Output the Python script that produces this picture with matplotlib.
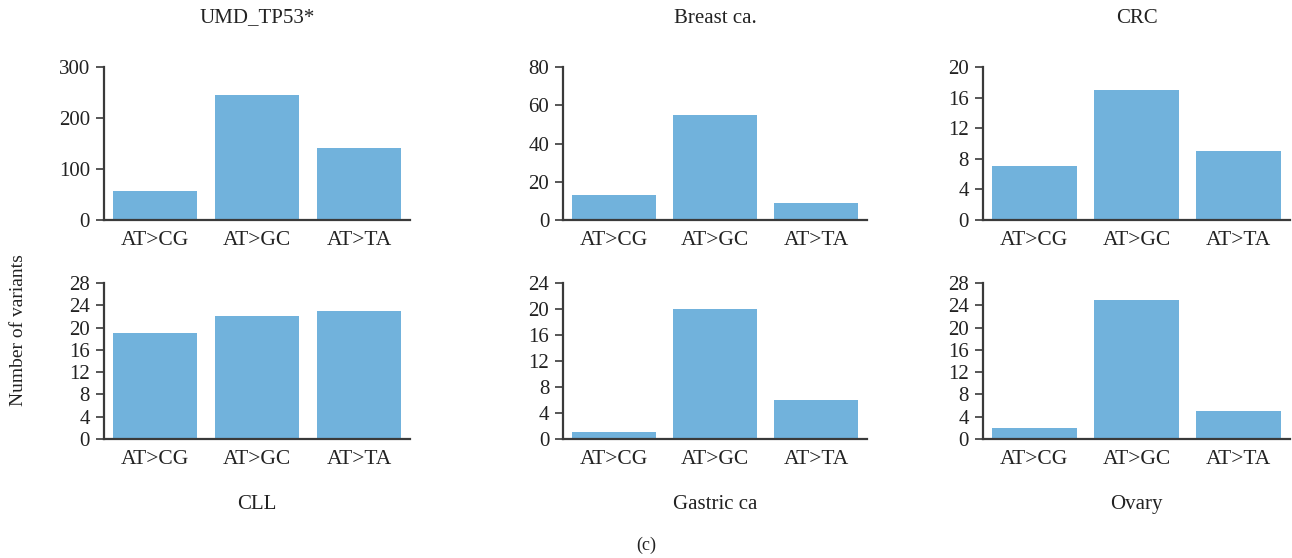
import matplotlib
matplotlib.use("Agg")
import matplotlib.pyplot as plt

# data
categories = ["AT>CG", "AT>GC", "AT>TA"]
panel_titles = ["UMD_TP53*", "Breast ca.", "CRC", "CLL", "Gastric ca", "Ovary"]
umd_tp53 = [56, 245, 141]
breast = [13, 55, 9]
crc = [7, 17, 9]
cll = [19, 22, 23]
gastric = [1, 20, 6]
ovary = [2, 25, 5]
y_ticks = [
    [0, 100, 200, 300],
    [0, 20, 40, 60, 80],
    [0, 4, 8, 12, 16, 20],
    [0, 4, 8, 12, 16, 20, 24, 28],
    [0, 4, 8, 12, 16, 20, 24],
    [0, 4, 8, 12, 16, 20, 24, 28],
]

plt.rcParams['font.family'] = ['Liberation Serif', 'DejaVu Serif']
bar_color = "#71b2dc"
spine_color = "#3a3a3a"

fig = plt.figure(figsize=(12.92, 5.58), dpi=100)

col_left = [0.0805, 0.4358, 0.7608]
col_width = [0.2368, 0.2353, 0.2376]
row_bottom = [0.6057, 0.2133]
row_height = [0.2742, 0.2796]

series = [umd_tp53, breast, crc, cll, gastric, ovary]
for i, vals in enumerate(series):
    r, c = divmod(i, 3)
    ax = fig.add_axes([col_left[c], row_bottom[r], col_width[c], row_height[r]])
    ax.bar(range(len(categories)), vals, width=0.83, color=bar_color)
    ax.set_xlim(-0.5, 2.5)
    ticks = y_ticks[i]
    ax.set_ylim(ticks[0], ticks[-1])
    ax.set_yticks(ticks)
    ax.set_xticks(range(len(categories)))
    ax.set_xticklabels(categories)
    for s in ["top", "right"]:
        ax.spines[s].set_visible(False)
    for s in ["left", "bottom"]:
        ax.spines[s].set_color(spine_color)
        ax.spines[s].set_linewidth(1.6)
    ax.tick_params(axis="x", length=0, pad=8, labelsize=15.5, colors="#222222")
    ax.tick_params(axis="y", length=6, width=1.2, pad=4, labelsize=15,
                   colors=spine_color, labelcolor="#222222")
    if r == 0:
        ax.text(0.5, 1.32, panel_titles[i], transform=ax.transAxes,
                ha="center", va="center", fontsize=15, color="#222222")
    else:
        ax.text(0.5, -0.42, panel_titles[i], transform=ax.transAxes,
                ha="center", va="center", fontsize=15, color="#222222")

fig.text(0.014, 0.409, "Number of variants", rotation=90, ha="center",
         va="center", fontsize=14, color="#222222")
fig.text(0.5, 0.023, "(c)", ha="center", va="center", fontsize=13, color="#222222")

fig.savefig("out.png", dpi=100)
